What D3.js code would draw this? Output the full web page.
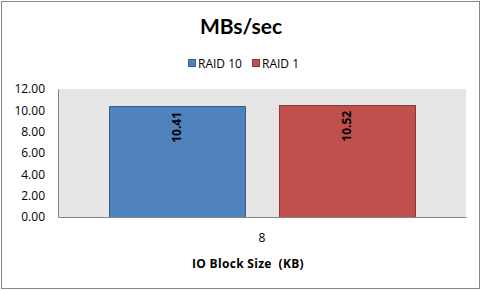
<!DOCTYPE html>
<html>
<head>
<meta charset="utf-8">
<script src="https://cdn.jsdelivr.net/npm/d3@7"></script>
<style>
  body { margin: 0; background: #fff; }
  text { font-family: "Open Sans", sans-serif; fill: #000; white-space: pre; }
</style>
</head>
<body>
<div id="chart"></div>
<script>
// data
var categories = ['8']
var seriesNames = ['RAID 10', 'RAID 1']
var seriesValues = [[10.41], [10.52]]
var seriesColors = ['#4f81bd', '#c0504d']
var seriesStrokes = ['#385d8a', '#8c3836']
var yTicks = [0, 2, 4, 6, 8, 10, 12]

var width = 482
var height = 291
var plot = { left: 58, right: 466, top: 89, bottom: 217 }
var small = '12px'

var svg = d3.select('#chart').append('svg')
  .attr('width', width)
  .attr('height', height)

// outer border
svg.append('rect')
  .attr('x', 1.5).attr('y', 1.5)
  .attr('width', 478).attr('height', 287)
  .attr('fill', '#fff')
  .attr('stroke', '#868686')

var x = d3.scaleBand()
  .domain(categories)
  .range([plot.left, plot.right])

var y = d3.scaleLinear()
  .domain([0, 12])
  .range([plot.bottom, plot.top])

// plot area
svg.append('rect')
  .attr('x', plot.left).attr('y', plot.top)
  .attr('width', plot.right - plot.left)
  .attr('height', plot.bottom - plot.top)
  .attr('fill', '#e6e6e6')

// bars: Excel-ish gap width 75%, overlap -25%
var bw = x.bandwidth()
var barW = bw / (2 + 0.75 + 0.25)

seriesNames.forEach(function(name, si) {
  categories.forEach(function(cat, ci) {
    var v = seriesValues[si][ci]
    var bx = x(cat) + barW * 0.375 + si * barW * 1.25
    svg.append('rect')
      .attr('x', Math.round(bx) + 0.5)
      .attr('y', Math.round(y(v)) + 0.5)
      .attr('width', Math.round(barW))
      .attr('height', y(0) - Math.round(y(v)))
      .attr('fill', seriesColors[si])
      .attr('stroke', seriesStrokes[si])
    var cx = bx + barW / 2 + 4
    var ty = y(v) + 6
    svg.append('text')
      .attr('transform', 'translate(' + cx + ',' + ty + ') rotate(-90)')
      .attr('text-anchor', 'end')
      .style('font-size', small)
      .style('font-weight', 'bold')
      .text(v.toFixed(2))
  })
})

// y axis
var yAxis = svg.append('g')
  .attr('transform', 'translate(' + plot.left + ',0)')
  .call(d3.axisLeft(y).tickValues(yTicks).tickSize(0).tickPadding(13)
    .tickFormat(function(d) { return d.toFixed(2) }))
yAxis.select('.domain').attr('stroke', '#868686')
yAxis.selectAll('text')
  .style('font-size', small)
  .style('font-family', '"Open Sans", sans-serif')
  .attr('fill', '#000')

// x axis
var xAxis = svg.append('g')
  .attr('transform', 'translate(0,' + plot.bottom + ')')
  .call(d3.axisBottom(x).tickSize(0).tickPadding(16).tickSizeOuter(0))
xAxis.select('.domain').attr('stroke', '#868686')
xAxis.selectAll('text')
  .style('font-size', small)
  .style('font-family', '"Open Sans", sans-serif')
  .attr('fill', '#000')

// titles
svg.append('text')
  .attr('x', 241).attr('y', 34)
  .attr('text-anchor', 'middle')
  .style('font-family', 'Lato, sans-serif')
  .style('font-size', '21px')
  .style('font-weight', 'bold')
  .text('MBs/sec')

svg.append('text')
  .attr('x', 248).attr('y', 268)
  .attr('text-anchor', 'middle')
  .style('font-size', small)
  .style('font-weight', 'bold')
  .style('letter-spacing', '0.3px')
  .text('IO Block Size  (KB)')

// legend
var legendX = [188, 252]
seriesNames.forEach(function(name, i) {
  svg.append('rect')
    .attr('x', legendX[i] + 0.5).attr('y', 59.5)
    .attr('width', 7).attr('height', 7)
    .attr('fill', seriesColors[i])
    .attr('stroke', seriesStrokes[i])
  svg.append('text')
    .attr('x', legendX[i] + 10).attr('y', 67.5)
    .style('font-size', small)
    .text(name)
})
</script>
</body>
</html>
